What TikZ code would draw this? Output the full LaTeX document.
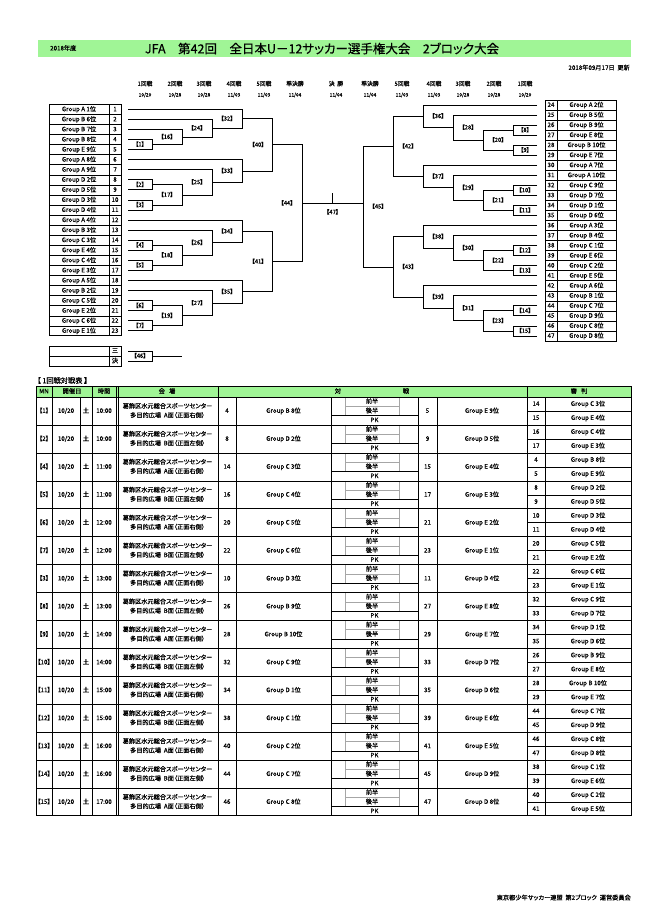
\documentclass[tikz,border=0pt]{standalone}
\usepackage{fontspec}
\setmainfont{Noto Sans CJK JP}[RawFeature={+palt}, FakeBold=0.4]
\usetikzlibrary{calc}
\definecolor{hdrgreen}{RGB}{160,245,150}
\newcommand\myround[4]{%
  \node[rndtx] (rh#4) at (#1,84) {#2};
  \node[datetx] (rd#4) at (#1,95) {#3};}
\begin{document}
\begin{tikzpicture}[x=1pt,y=-1pt,
  tx/.style={inner sep=0pt, text height=4.9pt, text depth=1.1pt, font=\fontsize{6.2}{7}\selectfont},
  rndtx/.style={inner sep=0pt, text height=4.6pt, text depth=1pt, font=\fontsize{5.8}{6}\selectfont},
  datetx/.style={inner sep=0pt, text height=3.8pt, text depth=0.8pt, font=\fontsize{4.8}{5}\selectfont},
  lab/.style={inner sep=0pt, text height=4.6pt, text depth=1pt, font=\fontsize{5.8}{6}\selectfont},
  brk/.style={line width=0.8pt},
  grid/.style={line width=0.5pt},
  frame/.style={line width=0.9pt},
  soft/.style={line width=0.5pt, gray!70}]
\useasboundingbox (0,0) rectangle (650,919);
\fill[white] (0,0) rectangle (650,919);

% ---------- header ----------
\fill[hdrgreen] (38,40) rectangle (631,57);
\node[tx, anchor=west] (yr) at (50,48.5) {2018年度};
\node[inner sep=0pt, font=\fontsize{12.5}{14}\selectfont] (title) at (322,48.5)
  {JFA\quad 第42回\quad 全日本U－12サッカー選手権大会\quad 2ブロック大会};
\node[tx, anchor=east] (upd) at (630,68) {2018年09月17日\ \ 更新};

\myround{145}{1回戦}{10/20}{a}
\myround{175}{2回戦}{10/28}{b}
\myround{204}{3回戦}{10/28}{c}
\myround{234}{4回戦}{11/03}{d}
\myround{264}{5回戦}{11/03}{e}
\myround{295}{準決勝}{11/04}{f}
\myround{336}{決\ \ 勝}{11/04}{g}
\myround{370}{準決勝}{11/04}{h}
\myround{402}{5回戦}{11/03}{i}
\myround{434}{4回戦}{11/03}{j}
\myround{463}{3回戦}{10/28}{k}
\myround{494}{2回戦}{10/28}{l}
\myround{525}{1回戦}{10/20}{m}

% ---------- left team table ----------
\foreach \n/\nm [count=\i] in {1/Group A 1位,2/Group B 6位,3/Group B 7位,4/Group B 8位,5/Group E 9位,
  6/Group A 8位,7/Group A 9位,8/Group D 2位,9/Group D 5位,10/Group D 3位,11/Group D 4位,
  12/Group A 4位,13/Group B 3位,14/Group C 3位,15/Group E 4位,16/Group C 4位,17/Group E 3位,
  18/Group A 5位,19/Group B 2位,20/Group C 5位,21/Group E 2位,22/Group C 6位,23/Group E 1位}{
  \pgfmathsetmacro\yy{104.3+(\i-0.5)*10.07}
  \node[tx] (ln\n) at (79,\yy) {\nm};
  \node[tx] (lk\n) at (115,\yy) {\n};
  \coordinate (t\n) at (128,\yy);
}
\foreach \i in {1,...,22}{\draw[grid] (49,{104.3+\i*10.07}) -- (121,{104.3+\i*10.07});}
\foreach \i in {5,11,17}{\draw[frame] (49,{104.3+\i*10.07}) -- (121,{104.3+\i*10.07});}
\draw[grid] (109,104.3) -- (109,335.9);
\draw[frame] (49,104.3) rectangle (121,335.9);

% ---------- right team table ----------
\foreach \n/\nm [count=\i] in {24/Group A 2位,25/Group B 5位,26/Group B 9位,27/Group E 8位,28/Group B 10位,29/Group E 7位,
  30/Group A 7位,31/Group A 10位,32/Group C 9位,33/Group D 7位,34/Group D 1位,35/Group D 6位,
  36/Group A 3位,37/Group B 4位,38/Group C 1位,39/Group E 6位,40/Group C 2位,41/Group E 5位,
  42/Group A 6位,43/Group B 1位,44/Group C 7位,45/Group D 9位,46/Group C 8位,47/Group D 8位}{
  \pgfmathsetmacro\yy{100+(\i-0.5)*10.04}
  \node[tx] (rn\n) at (586.5,\yy) {\nm};
  \node[tx] (rk\n) at (551,\yy) {\n};
  \coordinate (t\n) at (537,\yy);
}
\foreach \i in {1,...,23}{\draw[grid] (545,{100+\i*10.04}) -- (616,{100+\i*10.04});}
\foreach \i in {6,12,18}{\draw[frame] (545,{100+\i*10.04}) -- (616,{100+\i*10.04});}
\draw[grid] (557,100) -- (557,341);
\draw[frame] (545,100) rectangle (616,341);

% ---------- third place box ----------
\draw[grid] (49,356) -- (121,356);
\draw[grid] (109,346) -- (109,366);
\draw[frame] (49,346) rectangle (121,366);
\node[tx] (sa) at (115,351) {三};
\node[tx] (sb) at (115,361) {決};
\coordinate (t46a) at (128,351);
\coordinate (t46b) at (128,361);
\coordinate (m46) at (152,356);
\draw[brk] (t46a) -| (m46) (t46b) -| (m46);
\draw[brk] (m46) -- ++(30,0) coordinate (e46);
\node[lab] (l46) at ($(m46)+(-12,0)$) {【46】};

% ---------- bracket columns ----------
\foreach \nm/\xx in {cl1/152,cl2/182,cl3/212,cl4/242,cl5/272,cl6/302,
                     cr1/513,cr2/483,cr3/453,cr4/423,cr5/393,cr6/363}{
  \coordinate (\nm) at (\xx,0);
}

% ---------- matches ----------
\foreach \k/\a/\b/\c/\d in {
  1/t4/t5/cl1/-12, 2/t8/t9/cl1/-12, 3/t10/t11/cl1/-12, 4/t14/t15/cl1/-12,
  5/t16/t17/cl1/-12, 6/t20/t21/cl1/-12, 7/t22/t23/cl1/-12,
  16/t3/m1/cl2/-15, 17/m2/m3/cl2/-15, 18/m4/m5/cl2/-15, 19/m6/m7/cl2/-15,
  24/t2/m16/cl3/-15, 25/t7/m17/cl3/-15, 26/t13/m18/cl3/-15, 27/t19/m19/cl3/-15,
  32/t1/m24/cl4/-15, 33/t6/m25/cl4/-15, 34/t12/m26/cl4/-15, 35/t18/m27/cl4/-15,
  40/m32/m33/cl5/-14, 41/m34/m35/cl5/-14, 44/m40/m41/cl6/-15,
  8/t26/t27/cr1/12, 9/t28/t29/cr1/12, 10/t32/t33/cr1/12, 11/t34/t35/cr1/12,
  12/t38/t39/cr1/12, 13/t40/t41/cr1/12, 14/t44/t45/cr1/12, 15/t46/t47/cr1/12,
  20/m8/m9/cr2/15, 21/m10/m11/cr2/15, 22/m12/m13/cr2/15, 23/m14/m15/cr2/15,
  28/t25/m20/cr3/15, 29/t31/m21/cr3/15, 30/t37/m22/cr3/15, 31/t43/m23/cr3/15,
  36/t24/m28/cr4/15, 37/t30/m29/cr4/15, 38/t36/m30/cr4/15, 39/t42/m31/cr4/15,
  42/m36/m37/cr5/15, 43/m38/m39/cr5/15, 45/m42/m43/cr6/15}{
  \coordinate (mm\k) at ($(\a)!.5!(\b)$);
  \coordinate (m\k) at (mm\k -| \c);
  \draw[brk] (\a) -| (m\k) (\b) -| (m\k);
  \node[lab] (l\k) at ($(m\k)+(\d,0)$) {【\k{}】};
}
% final
\draw[brk] (m44) -- coordinate[midway] (m47) (m44 -| m45);
\draw[brk] (m47) -- ++(0,-10) coordinate (k47);
\node[lab] (l47) at ($(m47)+(0,9)$) {【47】};

% ---------- match table ----------
\node[inner sep=0pt, anchor=west, font=\fontsize{7.2}{8}\selectfont] (ttl) at (37,380.5) {【\ 1回戦対戦表\ 】};
\fill[hdrgreen] (36,386) rectangle (631,397);
\node[tx] (hmn) at (44,391.5) {MN};
\node[tx] (hdt) at (72,391.5) {開催日};
\node[tx] (htm) at (104,391.5) {時間};
\node[tx] (hvn) at (167,391.5) {会\ \ \ 場};
\node[tx] (hv1) at (338,391.5) {対};
\node[tx] (hv2) at (406,391.5) {戦};
\node[tx] (hrf) at (579,391.5) {審\ \ \ 判};

\foreach \mn/\tm/\ab/\ta/\tna/\tb/\tnb/\ra/\rna/\rb/\rnb [count=\r] in {
 1/10:00/A面（正面右側）/4/Group B 8位/5/Group E 9位/14/Group C 3位/15/Group E 4位,
 2/10:00/B面（正面左側）/8/Group D 2位/9/Group D 5位/16/Group C 4位/17/Group E 3位,
 4/11:00/A面（正面右側）/14/Group C 3位/15/Group E 4位/4/Group B 8位/5/Group E 9位,
 5/11:00/B面（正面左側）/16/Group C 4位/17/Group E 3位/8/Group D 2位/9/Group D 5位,
 6/12:00/A面（正面右側）/20/Group C 5位/21/Group E 2位/10/Group D 3位/11/Group D 4位,
 7/12:00/B面（正面左側）/22/Group C 6位/23/Group E 1位/20/Group C 5位/21/Group E 2位,
 3/13:00/A面（正面右側）/10/Group D 3位/11/Group D 4位/22/Group C 6位/23/Group E 1位,
 8/13:00/B面（正面左側）/26/Group B 9位/27/Group E 8位/32/Group C 9位/33/Group D 7位,
 9/14:00/A面（正面右側）/28/Group B 10位/29/Group E 7位/34/Group D 1位/35/Group D 6位,
 10/14:00/B面（正面左側）/32/Group C 9位/33/Group D 7位/26/Group B 9位/27/Group E 8位,
 11/15:00/A面（正面右側）/34/Group D 1位/35/Group D 6位/28/Group B 10位/29/Group E 7位,
 12/15:00/B面（正面左側）/38/Group C 1位/39/Group E 6位/44/Group C 7位/45/Group D 9位,
 13/16:00/A面（正面右側）/40/Group C 2位/41/Group E 5位/46/Group C 8位/47/Group D 8位,
 14/16:00/B面（正面左側）/44/Group C 7位/45/Group D 9位/38/Group C 1位/39/Group E 6位,
 15/17:00/A面（正面右側）/46/Group C 8位/47/Group D 8位/40/Group C 2位/41/Group E 5位}{
  \pgfmathsetmacro\rt{397+(\r-1)*27.93}
  \pgfmathsetmacro\rc{\rt+13.965}
  \node[tx] (mn\r) at (44,\rc) {【\mn{}】};
  \node[tx] (dt\r) at (66,\rc) {10/20};
  \node[tx] (dw\r) at (86,\rc) {土};
  \node[tx] (tm\r) at (104,\rc) {\tm};
  \node[tx] (va\r) at (167.5,{\rc-4.6}) {葛飾区水元総合スポーツセンター};
  \node[tx] (vb\r) at (167.5,{\rc+4.6}) {多目的広場\ \ \ab};
  \node[tx] (na\r) at (227,\rc) {\ta};
  \node[tx] (ga\r) at (283.5,\rc) {\tna};
  \node[tx] (sx\r) at (372,{\rt+4.6}) {前半};
  \node[tx] (sy\r) at (372,{\rt+13.9}) {後半};
  \node[tx] (sz\r) at (374.5,{\rt+23.3}) {PK};
  \node[tx] (nb\r) at (427.5,\rc) {\tb};
  \node[tx] (gb\r) at (482,\rc) {\tnb};
  \node[tx] (ra\r) at (536,{\rt+7}) {\ra};
  \node[tx] (rb\r) at (536,{\rt+21}) {\rb};
  \node[tx] (rna\r) at (588,{\rt+7}) {\rna};
  \node[tx] (rnb\r) at (588,{\rt+21}) {\rnb};
  \draw[soft] (345,{\rt+9.3}) -- (399,{\rt+9.3});
  \draw[soft] (345,\rt) -- (345,{\rt+18.6}) (399,\rt) -- (399,{\rt+18.6});
  \draw[grid] (331,{\rt+18.6}) -- (418,{\rt+18.6});
  \draw[grid] (527,\rc) -- (631,\rc);
  \draw[grid] (36,\rt) -- (631,\rt);
}
\foreach \xx in {52,92,116,118.5,218,527}{\draw[grid] (\xx,386) -- (\xx,815.5);}
\foreach \xx in {80,236,331,418,437,545}{\draw[grid] (\xx,397) -- (\xx,815.5);}
\draw[frame] (36,386) rectangle (631,815.5);

% ---------- footer ----------
\node[tx, anchor=east] (foot) at (631,898) {東京都少年サッカー連盟\ \ 第2ブロック\ \ 運営委員会};
\end{tikzpicture}
\end{document}
